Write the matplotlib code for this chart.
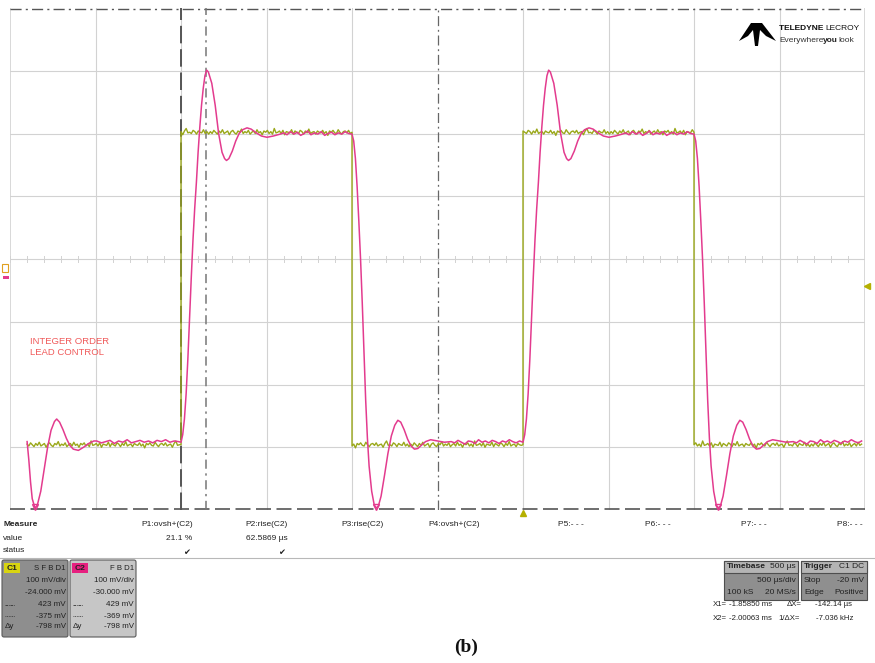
import numpy as np
import matplotlib
matplotlib.use("Agg")
from matplotlib import pyplot as plt
from matplotlib.patches import Rectangle, FancyBboxPatch, Polygon

c1_low_mv = -296
c1_high_mv = 202
record_start_us = -2400
record_end_us = 2480
rise_edges_us = [-1500, 500]
fall_edges_us = [-500, 1500]

# szum na plaskich odcinkach C1 (mV)
c1_ripple_mv = [1, -2, 3, 0, -3, 2, -1, 4, -2, 0, 2, -4, 1, 3, -1, -3, 2, 0, 5, -2,
                1, -1, 3, -3, 0, 2, -2, 4, -1, 1, -4, 2, 0, 3, -2, 1, -3, 6, -1, 0,
                2, -2, 3, -4, 1, 0, -1, 4, -3, 2, 0, -2, 3, 1, -3, 2, -1, 5, -2, 0,
                1, -3, 2, 0, -1, 3, -2, 1, -5, 2, 0, 3, -1, -2, 4, 0, -3, 1, 2, -1,
                3, -2, 0, 1, -4, 2, 6, -1, 0, -2, 3, 1, -3, 2, 0, -1, 4, -2, 1, -3]

# odpowiedz C2 po zboczu narastajacym (µs po zboczu, mV)
c2_rise_dt = [0, 10, 20, 30, 40, 50, 60, 70, 80, 90, 100, 110, 120, 130, 140, 150, 160,
              180, 200, 220, 240, 255, 266, 280, 300, 320, 340, 360, 386, 410, 440, 470,
              503, 540, 580, 600, 620, 640, 660, 680, 700, 720, 740, 760, 780, 800, 820,
              840, 860, 880, 900, 920, 940, 960, 980]
c2_rise_mv = [-292, -280, -255, -215, -160, -95, -30, 30, 80, 122, 170, 210, 245, 272, 292,
              301, 298, 280, 245, 200, 170, 160, 157, 160, 172, 188, 200, 206, 209, 207,
              201, 196, 194, 196, 199, 201, 198, 203, 199, 202, 197, 200, 204, 198, 201,
              199, 203, 197, 200, 202, 198, 201, 199, 203, 200]

# odpowiedz C2 po zboczu opadajacym (µs po zboczu, mV)
c2_fall_dt = [0, 10, 20, 30, 40, 50, 60, 70, 80, 90, 100, 115, 130, 143, 155, 170, 190,
              210, 230, 250, 268, 285, 305, 325, 345, 365, 385, 405, 430, 460, 500, 540,
              580, 600, 620, 640, 660, 680, 700, 720, 740, 760, 780, 800, 820, 840, 860,
              880, 900, 920, 940, 960, 980]
c2_fall_mv = [199, 188, 160, 115, 60, 0, -70, -150, -225, -285, -330, -370, -392, -397,
              -393, -378, -345, -310, -282, -265, -257, -260, -272, -287, -298, -303, -302,
              -297, -291, -288, -290, -292, -291, -293, -289, -292, -295, -290, -291, -294,
              -288, -292, -290, -293, -289, -291, -294, -290, -292, -288, -291, -293, -290]

# poczatek rekordu C2 (ogon poprzedniego zbocza opadajacego)
c2_head_us = [-2400, -2390, -2380, -2370, -2354, -2340, -2320, -2300, -2280, -2260, -2240,
              -2227, -2210, -2190, -2170, -2150, -2130, -2100, -2070, -2040, -2010, -1993,
              -1965, -1940, -1915, -1890, -1865, -1840, -1815, -1790, -1765, -1740, -1715,
              -1690, -1665, -1640, -1615, -1590, -1565, -1540, -1515]
c2_head_mv = [-291, -320, -355, -382, -397, -392, -370, -335, -300, -273, -259, -255, -260,
              -272, -286, -297, -303, -305, -300, -294, -290, -290, -293, -291, -289, -294,
              -290, -292, -288, -293, -291, -289, -292, -290, -293, -289, -291, -288, -292,
              -290, -291]

# ---------------- skladanie przebiegow ----------------
edges = sorted([(t, "rise") for t in rise_edges_us] + [(t, "fall") for t in fall_edges_us])
bounds = [record_start_us] + [t for t, _ in edges] + [record_end_us]
levels = [c1_low_mv] + [c1_high_mv if k == "rise" else c1_low_mv for _, k in edges]

c1_t, c1_v = [], []
for i, lvl in enumerate(levels):
    rip = np.roll(c1_ripple_mv, 17 * i)
    n = max(int((bounds[i + 1] - bounds[i]) / 10), 2)
    tt = np.linspace(bounds[i], bounds[i + 1], n)
    c1_t += list(tt)
    c1_v += list(lvl + np.resize(rip, n))
    if i < len(levels) - 1:
        c1_v[-1] = lvl  # pionowe zbocze

c2_t, c2_v = list(c2_head_us), list(c2_head_mv)
for t0, kind in edges:
    dt, mv = (c2_rise_dt, c2_rise_mv) if kind == "rise" else (c2_fall_dt, c2_fall_mv)
    c2_t += [t0 + d for d in dt]
    c2_v += list(mv)

# ---------------- rysunek ----------------
W, H = 875, 663
fig = plt.figure(figsize=(W / 100, H / 100), dpi=100)
fig.patch.set_facecolor("white")
ax = fig.add_axes([10 / W, 1 - 510 / H, 855 / W, 502 / H])
ax.set_xlim(-2500, 2500)
ax.set_ylim(-400, 400)
ax.set_xticks([])
ax.set_yticks([])
for s in ax.spines.values():
    s.set_visible(False)

grid_c = "#d2d2d2"
for x in range(-2000, 2500, 500):
    if x != 0:
        ax.axvline(x, color=grid_c, lw=0.8, zorder=1)
for y in range(-300, 400, 100):
    ax.axhline(y, color=grid_c, lw=0.8, zorder=1)
ax.axvline(-2500, color=grid_c, lw=1.2, zorder=1)
ax.axvline(2500, color=grid_c, lw=1.2, zorder=1)
# podzialka na poziomej osi srodkowej
for x in range(-2500, 2501, 100):
    ax.plot([x, x], [-4, 4], color=grid_c, lw=0.7, zorder=1)

# ramki gora/dol i os srodkowa
ax.axhline(398, color="#555555", lw=1.0, ls=(0, (8, 3, 1.5, 3)), zorder=2)
ax.axhline(-399, color="#555555", lw=1.2, ls=(0, (9, 3.3)), zorder=2)
ax.axvline(0, color="#666666", lw=0.9, ls=(0, (8, 3, 1.5, 3)), zorder=2)

# kursory
ax.axvline(-1500, color="#555555", lw=1.4, ls=(0, (9, 3)), zorder=2)
ax.axvline(-1354, color="#777777", lw=1.1, ls=(0, (6, 3, 1.5, 3)), zorder=2)

c1_col = "#9aa81a"
c2_col = "#e33b8e"
ax.plot(c1_t, c1_v, color=c1_col, lw=1.0, zorder=3)
ax.plot(c2_t, c2_v, color=c2_col, lw=1.1, zorder=4)

ax.text(-2385, -140, "INTEGER ORDER\nLEAD CONTROL", color="#f05a5a", fontsize=6.8,
        family="Liberation Sans", va="center", ha="left", linespacing=1.25)

# ---------------- nakladka w pikselach ----------------
ov = fig.add_axes([0, 0, 1, 1])
ov.set_xlim(0, W)
ov.set_ylim(H, 0)
ov.axis("off")
ov.patch.set_alpha(0)

FT = "Liberation Sans"


def txt(x, y, s, ha="left", size=6, weight="normal", color="#222222", family=FT):
    return ov.text(x, y, s, ha=ha, va="center", fontsize=size, fontweight=weight,
                   color=color, family=family)


# znaczniki na krawedziach
ov.plot([35, 376, 718], [507, 507, 507], marker="v", ls="none", color=c2_col,
        markersize=4, markerfacecolor="none")
ov.plot([523], [513], marker="^", ls="none", color="#b5b000", markersize=4)
ov.plot([867], [286], marker="<", ls="none", color="#b5b000", markersize=4)
ov.add_patch(Rectangle((2, 264), 6, 8, facecolor="none", edgecolor="#e0a020", lw=0.8))
ov.add_patch(Rectangle((3, 276), 6, 3, facecolor=c2_col, edgecolor="none"))

# tabela pomiarow
txt(3, 524, "Measure", weight="bold")
txt(3, 538, "value")
txt(3, 551, "status")
heads = [(193, "P1:ovsh+(C2)"), (288, "P2:rise(C2)"), (384, "P3:rise(C2)"),
         (480, "P4:ovsh+(C2)"), (584, "P5:- - -"), (671, "P6:- - -"),
         (767, "P7:- - -"), (863, "P8:- - -")]
for x, s in heads:
    txt(x, 524, s, ha="right")
txt(192, 538, "21.1 %", ha="right")
txt(288, 538, "62.5869 µs", ha="right")
txt(187, 552, "✔", ha="center", size=6, family="DejaVu Sans")
txt(282, 552, "✔", ha="center", size=6, family="DejaVu Sans")
ov.plot([0, W], [557.5, 557.5], color="#b8b8b8", lw=0.8)

# ramki kanalow
chan = [
    (2, "#8e8e8e", "C1", "#d8d410", "S F B D1", "-24.000 mV", "423 mV", "-375 mV"),
    (70, "#c6c6c6", "C2", "#e6207f", "F B D1", "-30.000 mV", "429 mV", "-369 mV"),
]
for x0, fc, name, tagc, flags, offs, v1, v2 in chan:
    ov.add_patch(FancyBboxPatch((x0, 560), 66, 77, boxstyle="round,pad=0,rounding_size=2",
                                facecolor=fc, edgecolor="#5a5a5a", lw=0.8))
    ov.add_patch(Rectangle((x0 + 2, 563), 16, 10, facecolor=tagc, edgecolor="none"))
    txt(x0 + 10, 568.5, name, ha="center", size=6, weight="bold", color="#222222")
    xr = x0 + 64
    txt(xr, 569, flags, ha="right", size=5.6)
    txt(xr, 581, "100 mV/div", ha="right", size=5.8)
    txt(xr, 592, offs, ha="right", size=5.8)
    txt(xr, 605, v1, ha="right", size=5.8)
    txt(xr, 616, v2, ha="right", size=5.8)
    txt(xr, 627, "-798 mV", ha="right", size=5.8)
    ov.plot([x0 + 3, x0 + 13], [605, 605], color="#333333", lw=0.6, ls=(0, (3, 1, 1, 1)))
    ov.plot([x0 + 3, x0 + 13], [616, 616], color="#333333", lw=0.6, ls=(0, (1, 1)))
    txt(x0 + 3, 627, "Δy", size=5.8)

# timebase / trigger
for x0, w in [(724, 74), (801, 66)]:
    ov.add_patch(Rectangle((x0, 561), w, 39, facecolor="#8f8f8f", edgecolor="#4e4e4e", lw=0.8))
    ov.add_patch(Rectangle((x0, 561), w, 12, facecolor="#b4b4b4", edgecolor="#4e4e4e", lw=0.8))
txt(727, 567, "Timebase", weight="bold")
txt(796, 567, "500 µs", ha="right")
txt(796, 580, "500 µs/div", ha="right")
txt(727, 592, "100 kS")
txt(796, 592, "20 MS/s", ha="right")
txt(804, 567, "Trigger", weight="bold")
txt(864, 567, "C1 DC", ha="right")
txt(804, 580, "Stop")
txt(864, 580, "-20 mV", ha="right")
txt(804, 592, "Edge")
txt(864, 592, "Positive", ha="right")

rs = 5.6
txt(713, 605, "X1=", size=rs)
txt(772, 605, "-1.85850 ms", ha="right", size=rs)
txt(787, 605, "ΔX=", size=rs)
txt(852, 605, "-142.14 µs", ha="right", size=rs)
txt(713, 619, "X2=", size=rs)
txt(772, 619, "-2.00063 ms", ha="right", size=rs)
txt(778, 619, "1/ΔX=", size=rs)
txt(853, 619, "-7.036 kHz", ha="right", size=rs)

# logo
ov.add_patch(Polygon([(739, 41), (751, 23), (762, 23), (776, 41), (766, 36), (760, 30),
                      (758, 46), (755, 46), (753, 30), (748, 36)],
                     closed=True, facecolor="black", edgecolor="none"))
t1 = txt(779, 29, "TELEDYNE ", size=6.0, weight="bold", color="#111111")
ov.annotate("LECROY", xy=(1, 0.5), xycoords=t1, va="center", ha="left", fontsize=6.0,
            family=FT, color="#111111")
t2 = txt(779, 41, "Everywhere", size=6.0, color="#333333")
t3 = ov.annotate("you", xy=(1, 0.5), xycoords=t2, va="center", ha="left", fontsize=6.0,
                 fontweight="bold", family=FT, color="#222222")
ov.annotate("look", xy=(1, 0.5), xycoords=t3, va="center", ha="left", fontsize=6.0,
            family=FT, color="#333333")

# podpis
ov.text(466, 647, "(b)", ha="center", va="center", fontsize=14, fontweight="bold",
        family="Liberation Serif", color="#111111")

fig.savefig("out.png", dpi=100)
plt.close(fig)
